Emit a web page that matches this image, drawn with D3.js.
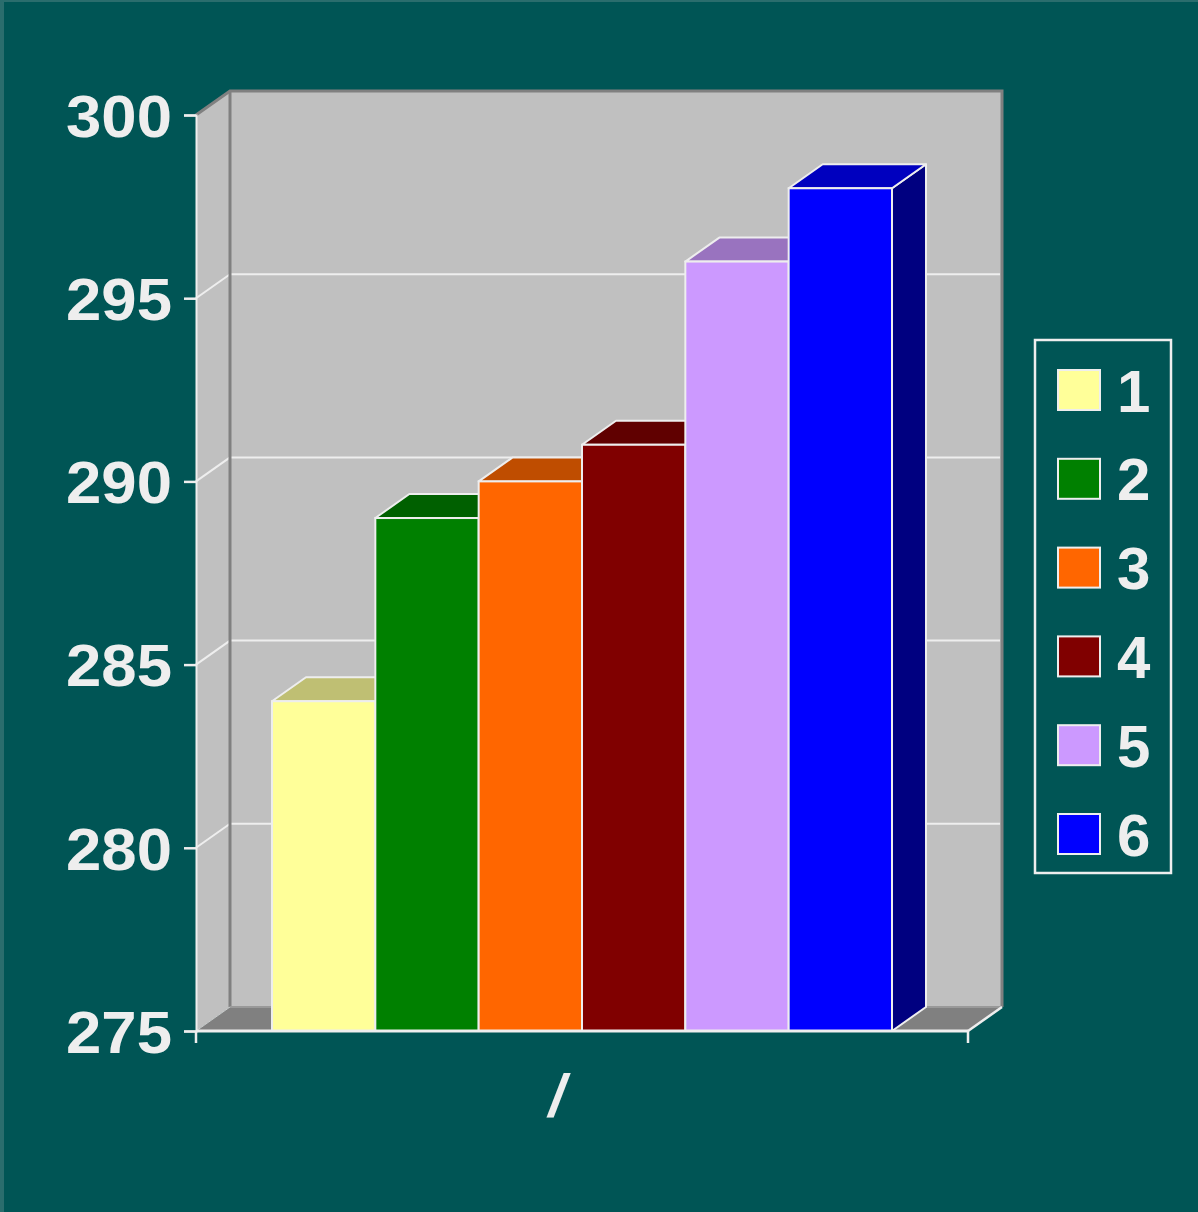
<!DOCTYPE html>
<html>
<head>
<meta charset="utf-8">
<script src="https://cdn.jsdelivr.net/npm/d3@7"></script>
<style>
  html, body { margin: 0; padding: 0; background: #005555; }
  svg { display: block; }
  text { font-family: "Liberation Sans", Arial, sans-serif; font-weight: bold; fill: #eeeeee; }
</style>
</head>
<body>
<div id="chart"></div>
<script>
// chart data
var categories = ["1", "2", "3", "4", "5", "6"];
var values = [284, 289, 290, 291, 296, 298];
var yTicks = [275, 280, 285, 290, 295, 300];
var xLabel = "/";

// bar colours (front face)
var palette = ["#ffff99", "#008000", "#ff6600", "#800000", "#cc99ff", "#0000ff"];

var svgWidth = 1198, svgHeight = 1212;

// 3d depth offset
var dx = 34, dy = -24;

var svg = d3.select("#chart").append("svg")
  .attr("width", svgWidth)
  .attr("height", svgHeight);

// background with lighter left/top edge
svg.append("rect").attr("width", svgWidth).attr("height", svgHeight).attr("fill", "#005555");
svg.append("rect").attr("width", 4).attr("height", svgHeight).attr("fill", "#2a6d6d");
svg.append("rect").attr("width", svgWidth).attr("height", 2).attr("fill", "#2a6d6d");

var y = d3.scaleLinear().domain([275, 300]).range([1031, 115]);
var x = d3.scaleBand().domain(categories).range([272, 892]).paddingInner(0).paddingOuter(0);

var axisLeftX = 196, axisRightX = 968;
var yTop = y(300), yBot = y(275);

function shade(c, k) {
  var r = d3.rgb(c);
  return d3.rgb(r.r * k, r.g * k, r.b * k).formatHex();
}

// back wall
svg.append("rect")
  .attr("x", axisLeftX + dx).attr("y", yTop + dy)
  .attr("width", axisRightX - axisLeftX).attr("height", yBot - yTop)
  .attr("fill", "#c0c0c0");

// side wall
svg.append("polygon")
  .attr("points", [[axisLeftX, yTop], [axisLeftX + dx, yTop + dy], [axisLeftX + dx, yBot + dy], [axisLeftX, yBot]].join(" "))
  .attr("fill", "#c0c0c0");

// floor
svg.append("polygon")
  .attr("points", [[axisLeftX, yBot], [axisRightX, yBot], [axisRightX + dx, yBot + dy], [axisLeftX + dx, yBot + dy]].join(" "))
  .attr("fill", "#808080");

// gridlines on back wall and side wall
var grid = yTicks.filter(function(d) { return d > 275 && d < 300; });
svg.selectAll(".gridBack").data(grid).enter().append("line")
  .attr("x1", axisLeftX + dx).attr("x2", axisRightX + dx - 2)
  .attr("y1", d => y(d) + dy).attr("y2", d => y(d) + dy)
  .attr("stroke", "#eeeeee").attr("stroke-width", 2);
svg.selectAll(".gridSide").data(grid).enter().append("line")
  .attr("x1", axisLeftX).attr("x2", axisLeftX + dx)
  .attr("y1", d => y(d)).attr("y2", d => y(d) + dy)
  .attr("stroke", "#eeeeee").attr("stroke-width", 2);

// wall edges (grey)
svg.append("path")
  .attr("d", "M" + axisLeftX + "," + yTop + "L" + (axisLeftX + dx) + "," + (yTop + dy) +
    "L" + (axisRightX + dx) + "," + (yTop + dy) + "L" + (axisRightX + dx) + "," + (yBot + dy))
  .attr("fill", "none").attr("stroke", "#808080").attr("stroke-width", 3);
svg.append("line")
  .attr("x1", axisLeftX + dx).attr("x2", axisLeftX + dx)
  .attr("y1", yTop + dy).attr("y2", yBot + dy)
  .attr("stroke", "#808080").attr("stroke-width", 3);
svg.append("line")
  .attr("x1", axisLeftX + dx).attr("x2", axisRightX + dx)
  .attr("y1", yBot + dy).attr("y2", yBot + dy)
  .attr("stroke", "#999999").attr("stroke-width", 2);
svg.append("line")
  .attr("x1", axisLeftX).attr("x2", axisLeftX + dx)
  .attr("y1", yBot).attr("y2", yBot + dy)
  .attr("stroke", "#cccccc").attr("stroke-width", 1);
svg.append("line")
  .attr("x1", axisRightX).attr("x2", axisRightX + dx)
  .attr("y1", yBot).attr("y2", yBot + dy)
  .attr("stroke", "#eeeeee").attr("stroke-width", 2.5);

// bars
var bw = x.bandwidth();
var bars = svg.selectAll(".bar").data(values).enter().append("g").attr("class", "bar");

bars.append("polygon")
  .attr("points", (d, i) => {
    var x1 = x(categories[i]) + bw, t = y(d);
    return [[x1, t], [x1 + dx, t + dy], [x1 + dx, yBot + dy], [x1, yBot]].join(" ");
  })
  .attr("fill", (d, i) => shade(palette[i], 0.5))
  .attr("stroke", "#eeeeee").attr("stroke-width", 2).attr("stroke-linejoin", "round");

bars.append("polygon")
  .attr("points", (d, i) => {
    var x0 = x(categories[i]), t = y(d);
    return [[x0, t], [x0 + dx, t + dy], [x0 + bw + dx, t + dy], [x0 + bw, t]].join(" ");
  })
  .attr("fill", (d, i) => shade(palette[i], 0.75))
  .attr("stroke", "#eeeeee").attr("stroke-width", 2).attr("stroke-linejoin", "round");

bars.append("rect")
  .attr("x", (d, i) => x(categories[i]))
  .attr("y", d => y(d))
  .attr("width", bw)
  .attr("height", d => yBot - y(d))
  .attr("fill", (d, i) => palette[i])
  .attr("stroke", "#eeeeee").attr("stroke-width", 2);

// y axis
var yAxis = d3.axisLeft(y).tickValues(yTicks).tickSize(12).tickPadding(12).tickFormat(d3.format("d"));
var gy = svg.append("g")
  .attr("transform", "translate(" + axisLeftX + ",0)")
  .call(yAxis);
gy.select(".domain").attr("stroke", "#eeeeee").attr("stroke-width", 2);
gy.selectAll(".tick line").attr("stroke", "#eeeeee").attr("stroke-width", 2.5);
gy.selectAll(".tick text")
  .attr("fill", "#eeeeee")
  .style("font-size", "59px")
  .style("font-family", "'Liberation Sans', Arial, sans-serif")
  .style("font-weight", "bold")
  .attr("dy", "0.36em")
  .attr("textLength", 106)
  .attr("lengthAdjust", "spacingAndGlyphs");

// x axis line and end ticks
svg.append("line")
  .attr("x1", axisLeftX).attr("x2", axisRightX)
  .attr("y1", yBot).attr("y2", yBot)
  .attr("stroke", "#eeeeee").attr("stroke-width", 3);
svg.selectAll(".xtick").data([axisLeftX, axisRightX]).enter().append("line")
  .attr("x1", d => d).attr("x2", d => d)
  .attr("y1", yBot).attr("y2", yBot + 12)
  .attr("stroke", "#eeeeee").attr("stroke-width", 2.5);

svg.append("text")
  .attr("x", 557).attr("y", 1116)
  .attr("text-anchor", "middle")
  .style("font-size", "60px")
  .style("font-style", "italic")
  .text(xLabel);

// legend
var legend = svg.append("g");
legend.append("rect")
  .attr("x", 1035).attr("y", 340).attr("width", 136).attr("height", 533)
  .attr("fill", "none").attr("stroke", "#eeeeee").attr("stroke-width", 2.5);

var lItems = legend.selectAll(".li").data(categories).enter().append("g")
  .attr("transform", (d, i) => "translate(0," + (390 + i * 88.8) + ")");
lItems.append("rect")
  .attr("x", 1058).attr("y", -20).attr("width", 42).attr("height", 40)
  .attr("fill", (d, i) => palette[i])
  .attr("stroke", "#eeeeee").attr("stroke-width", 2);
lItems.append("text")
  .attr("x", 1117).attr("y", 0).attr("dy", "0.36em")
  .style("font-size", "60px")
  .text(d => d);
</script>
</body>
</html>
